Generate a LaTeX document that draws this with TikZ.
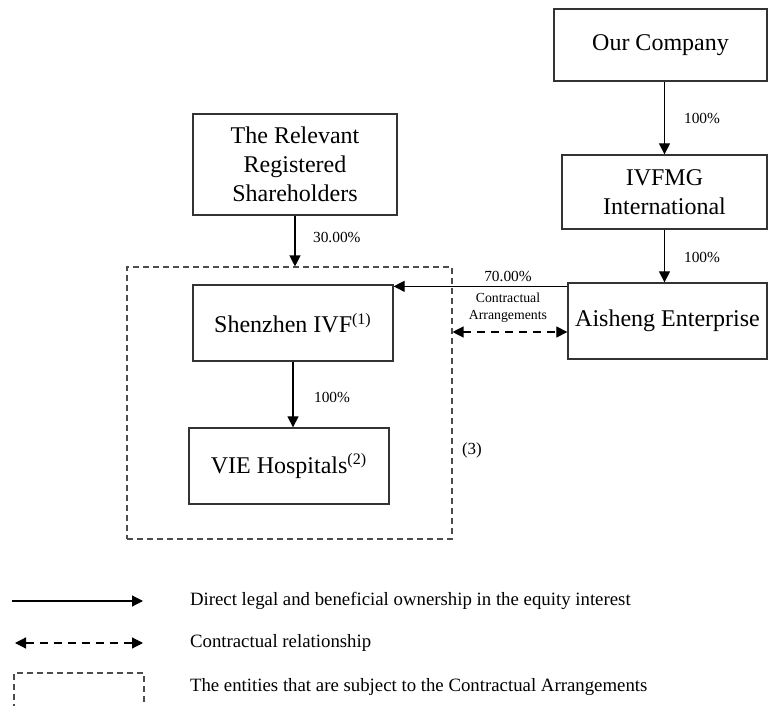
\documentclass[tikz,border=0pt]{standalone}
\usepackage{fontspec}
\setmainfont{Liberation Serif}
\usetikzlibrary{arrows.meta,positioning,calc}

\begin{document}
\begin{tikzpicture}[
        x=0.5pt, y=-0.5pt,
        font=\fontsize{12}{14.5}\selectfont,
        >={Triangle[length=5.5pt,width=5.5pt]},
        % Block styles
        entity/.style={
            rectangle,
            draw=black!80,
            line width=0.65pt,
            inner sep=0pt,
            align=center
        },
        group/.style={
            rectangle,
            draw=black!70,
            line width=0.55pt,
            dash pattern=on 3pt off 2pt,
            inner sep=0pt
        },
        share/.style={font=\fontsize{7.7}{9}\selectfont},
        legendtext/.style={anchor=west, font=\fontsize{9.4}{11}\selectfont},
        own/.style={->, line width=0.6pt},
        contract/.style={<->, line width=0.6pt, dash pattern=on 4pt off 3pt}
    ]
    \useasboundingbox (0,0) rectangle (768,706);
    \clip (0,0) rectangle (768,706);

    % Offshore entities
    \node[entity, minimum width=106.5pt, minimum height=36pt] (company) at (660.5,45) {Our Company};
    \node[entity, minimum width=102.5pt, minimum height=37pt] (ivfmg) at (664.5,192) {IVFMG\\International};
    \node[entity, minimum width=99.5pt, minimum height=38pt] (aisheng) at (667.5,321) {Aisheng Enterprise};

    % Onshore entities
    \node[entity, minimum width=102pt, minimum height=50.5pt] (holders) at (295,164.5) {The Relevant\\Registered\\Shareholders};
    \node[group, minimum width=162.5pt, minimum height=136pt] (viebox) at (289.5,403) {};
    \node[entity, minimum width=100pt, minimum height=38pt] (shenzhen) at (293,323) {Shenzhen IVF\textsuperscript{(1)}};
    \node[entity, minimum width=100pt, minimum height=38pt] (hospitals) at (289,466) {VIE Hospitals\textsuperscript{(2)}};
    \node[font=\fontsize{8.5}{10}\selectfont] (note) at (472,450) {(3)};

    % Connections
    \draw[own] (ivfmg.north |- company.south) -- (ivfmg.north);
    \draw[own] (ivfmg.south) -- (ivfmg.south |- aisheng.north);
    \draw[own] (holders.south) -- (holders.south |- viebox.north);
    \draw[own] ([yshift=-2pt]aisheng.north west) -- ([yshift=-2pt]aisheng.north west -| shenzhen.east);
    \draw[own] (shenzhen.south) -- (shenzhen.south |- hospitals.north);
    \coordinate (ca) at ([yshift=-5.5pt]aisheng.west);
    \draw[contract] (viebox.east |- ca) -- (ca);

    % Labels
    \node[share, anchor=west] (p1) at (677,118) {100\%};
    \node[share, anchor=west] (p2) at (677,257) {100\%};
    \node[share, anchor=west] (p3) at (306,237) {30.00\%};
    \node[share] (p4) at (508,276) {70.00\%};
    \node[font=\fontsize{6.9}{8.5}\selectfont, align=center] (ctr) at (508,308) {Contractual\\Arrangements};
    \node[share, anchor=west] (p5) at (307,397) {100\%};

    % Legend
    \coordinate (la) at (12,601);
    \coordinate (lb) at (143,601);
    \coordinate (lc) at (15,643);
    \coordinate (ld) at (143,643);
    \draw[own] (la) -- (lb);
    \draw[contract] (lc) -- (ld);
    \draw[group] (14,730) |- (144,673) -- (144,730);
    \node[legendtext] (t1) at (183,601) {Direct legal and beneficial ownership in the equity interest};
    \node[legendtext] (t2) at (183,643) {Contractual relationship};
    \node[legendtext] (t3) at (183,687) {The entities that are subject to the Contractual Arrangements};
\end{tikzpicture}
\end{document}
